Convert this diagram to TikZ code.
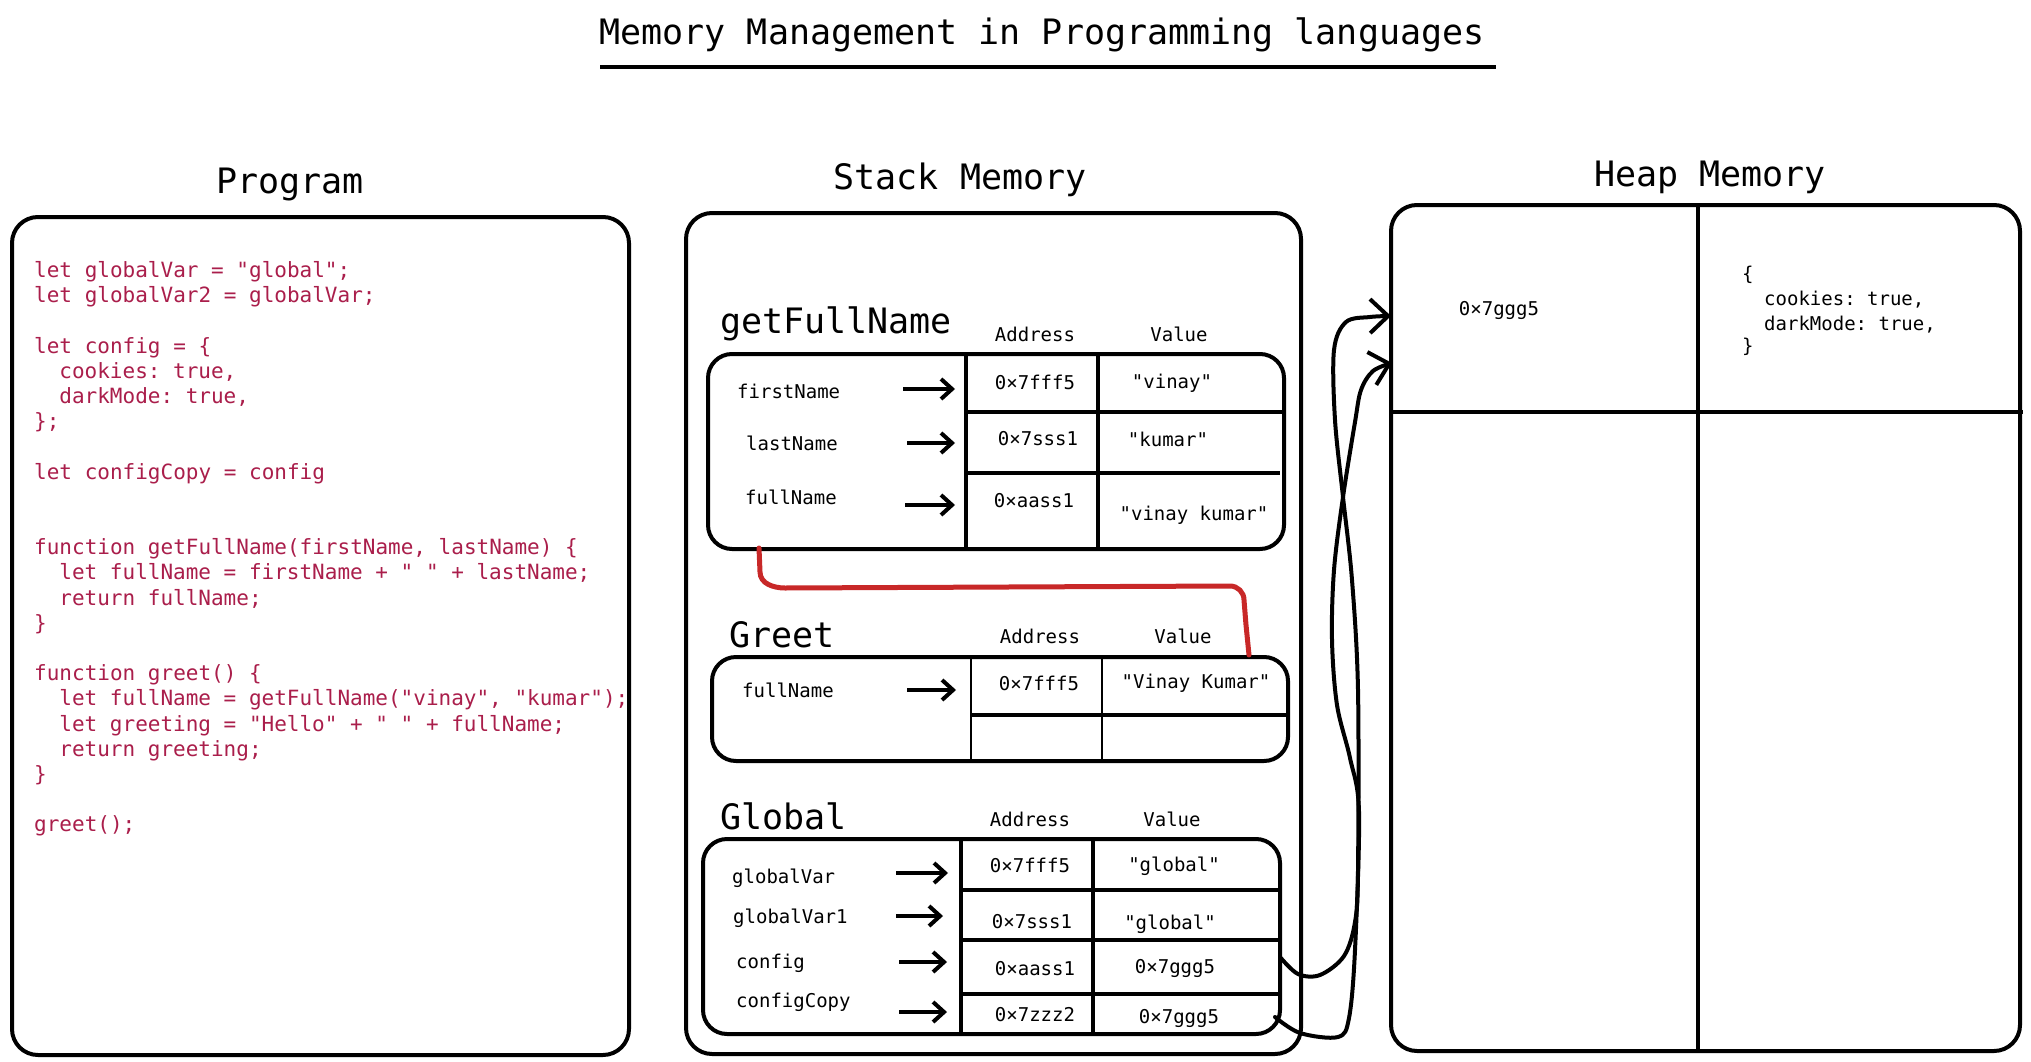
\documentclass[tikz,border=0pt]{standalone}
\usepackage{fontspec}
\setmonofont{DejaVu Sans Mono}
\usetikzlibrary{arrows.meta}
\definecolor{codered}{RGB}{170,30,75}
\definecolor{linkred}{RGB}{200,40,40}
\tikzset{
  bigtxt/.style={inner sep=0pt, yshift=-3pt, font=\ttfamily\fontsize{35}{40}\selectfont, text height=25pt, text depth=7pt},
  smalltxt/.style={inner sep=0pt, yshift=-2pt, font=\ttfamily\fontsize{19}{22}\selectfont, text height=14pt, text depth=4pt},
  codetxt/.style={inner sep=0pt, yshift=-2.5pt, anchor=west, text=codered, font=\ttfamily\fontsize{21}{25}\selectfont, text height=15pt, text depth=4pt},
  boxframe/.style={draw=black, line width=4pt, rounded corners=26pt, anchor=north west, inner sep=0pt},
  tablebox/.style={draw=black, line width=4pt, rounded corners=24pt, anchor=north west, inner sep=0pt},
  gridline/.style={draw=black, line width=4pt},
  thinline/.style={draw=black, line width=1.7pt},
  ptr/.style={line width=4pt, -{Straight Barb[length=11pt, width=20pt]}},
  heapptr/.style={line width=4pt, line cap=round, line join=round, -{Straight Barb[length=18pt, width=34pt]}},
  redlink/.style={draw=linkred, line width=5pt, line cap=round, line join=round},
}
\begin{document}
\begin{tikzpicture}[x=1pt, y=-1pt]
\useasboundingbox (0,0) rectangle (2031,1062);
\fill[white] (0,0) rectangle (2031,1062);

% title
\node[bigtxt] (title) at (1042,33) {Memory Management in Programming languages};
\draw[line width=4pt] (600,67) -- (1496,67);

% section labels
\node[bigtxt] (lprog) at (290,181) {Program};
\node[bigtxt] (lstack) at (960,177) {Stack Memory};
\node[bigtxt] (lheap) at (1710,174) {Heap Memory};

% outer boxes
\node[boxframe, minimum width=617pt, minimum height=838pt] (prog) at (10,215) {};
\node[boxframe, minimum width=615pt, minimum height=841pt] (stack) at (684,211) {};
\node[boxframe, minimum width=629pt, minimum height=846pt] (heap) at (1389,203) {};
\draw[gridline] (1698,203) -- (1698,1049);
\draw[gridline] (1389,412) -- (2023,412);

% program code
\node[codetxt] (c1) at (34,269.4) {let globalVar = "global";};
\node[codetxt] (c2) at (34,294.6) {let globalVar2 = globalVar;};
\node[codetxt] (c4) at (34,345.0) {let config = \{};
\node[codetxt] (c5) at (59.2,370.2) {cookies: true,};
\node[codetxt] (c6) at (59.2,395.4) {darkMode: true,};
\node[codetxt] (c7) at (34,420.6) {\};};
\node[codetxt] (c9) at (34,471.0) {let configCopy = config};
\node[codetxt] (c12) at (34,546.6) {function getFullName(firstName, lastName) \{};
\node[codetxt] (c13) at (59.2,571.8) {let fullName = firstName + " " + lastName;};
\node[codetxt] (c14) at (59.2,597.0) {return fullName;};
\node[codetxt] (c15) at (34,622.2) {\}};
\node[codetxt] (c17) at (34,672.6) {function greet() \{};
\node[codetxt] (c18) at (59.2,697.8) {let fullName = getFullName("vinay", "kumar");};
\node[codetxt] (c19) at (59.2,723.0) {let greeting = "Hello" + " " + fullName;};
\node[codetxt] (c20) at (59.2,748.2) {return greeting;};
\node[codetxt] (c21) at (34,773.4) {\}};
\node[codetxt] (c23) at (34,823.8) {greet();};

% ---------- getFullName frame ----------
\node[bigtxt, anchor=west] (gfnlbl) at (720,321) {getFullName};
\node[smalltxt] (gfnaddr) at (1035,334) {Address};
\node[smalltxt] (gfnval) at (1179,334) {Value};
\node[tablebox, minimum width=576pt, minimum height=195pt] (gfn) at (706,352) {};
\draw[gridline] (966,352) -- (966,547);
\draw[gridline] (1098,352) -- (1098,547);
\draw[gridline] (966,412) -- (1282,412);
\draw[gridline] (966,473) -- (1280,473);
\node[smalltxt, anchor=west] (gfn1) at (737,391) {firstName};
\node[smalltxt, anchor=west] (gfn2) at (746,443) {lastName};
\node[smalltxt, anchor=west] (gfn3) at (745,497) {fullName};
\node[smalltxt] (gfna1) at (1035,382) {0×7fff5};
\node[smalltxt] (gfnv1) at (1172,381) {"vinay"};
\node[smalltxt] (gfna2) at (1038,438) {0×7sss1};
\node[smalltxt] (gfnv2) at (1168,439) {"kumar"};
\node[smalltxt] (gfna3) at (1034,500) {0×aass1};
\node[smalltxt] (gfnv3) at (1194,513) {"vinay kumar"};
\coordinate (g1s) at (903,389); \coordinate (g1e) at (955,389);
\coordinate (g2s) at (907,443); \coordinate (g2e) at (955,443);
\coordinate (g3s) at (905,505); \coordinate (g3e) at (955,505);
\draw[ptr] (g1s) -- (g1e);
\draw[ptr] (g2s) -- (g2e);
\draw[ptr] (g3s) -- (g3e);

% ---------- Greet frame ----------
\node[bigtxt, anchor=west] (grlbl) at (729,635) {Greet};
\node[smalltxt] (graddr) at (1040,636) {Address};
\node[smalltxt] (grval) at (1183,636) {Value};
\node[tablebox, minimum width=576pt, minimum height=104pt] (greet) at (710,655) {};
\draw[thinline] (971,655) -- (971,759);
\draw[thinline] (1102,655) -- (1102,759);
\draw[gridline] (971,715) -- (1286,715);
\node[smalltxt, anchor=west] (gr1) at (742,690) {fullName};
\node[smalltxt] (gra1) at (1039,683) {0×7fff5};
\node[smalltxt] (grv1) at (1196,681) {"Vinay Kumar"};
\coordinate (r1s) at (907,690); \coordinate (r1e) at (956,690);
\draw[ptr] (r1s) -- (r1e);

% red link from getFullName frame to Greet frame
\coordinate (linkA) at (759,548);
\coordinate (linkB) at (1249,655);
\draw[redlink] (linkA) -- (760,572) to[out=-90, in=180] (785,588) -- (1230,586) to[out=0, in=90] (1244,600) -- (1246,625) -- (linkB);

% ---------- Global frame ----------
\node[bigtxt, anchor=west] (gllbl) at (720,817) {Global};
\node[smalltxt] (gladdr) at (1030,819) {Address};
\node[smalltxt] (glval) at (1172,819) {Value};
\node[tablebox, minimum width=577pt, minimum height=195pt] (glob) at (701,837) {};
\draw[gridline] (961,837) -- (961,1032);
\draw[gridline] (1093,837) -- (1093,1032);
\draw[gridline] (961,890) -- (1278,890);
\draw[gridline] (961,940) -- (1278,940);
\draw[gridline] (961,994) -- (1278,994);
\node[smalltxt, anchor=west] (gl1) at (732,876) {globalVar};
\node[smalltxt, anchor=west] (gl2) at (733,916) {globalVar1};
\node[smalltxt, anchor=west] (gl3) at (736,961) {config};
\node[smalltxt, anchor=west] (gl4) at (736,1000) {configCopy};
\node[smalltxt] (gla1) at (1030,865) {0×7fff5};
\node[smalltxt] (glv1) at (1174,864) {"global"};
\node[smalltxt] (gla2) at (1032,921) {0×7sss1};
\node[smalltxt] (glv2) at (1170,922) {"global"};
\node[smalltxt] (gla3) at (1035,968) {0×aass1};
\node[smalltxt] (glv3) at (1175,966) {0×7ggg5};
\node[smalltxt] (gla4) at (1035,1014) {0×7zzz2};
\node[smalltxt] (glv4) at (1179,1016) {0×7ggg5};
\coordinate (q1s) at (896,873); \coordinate (q1e) at (948,873);
\coordinate (q2s) at (896,916); \coordinate (q2e) at (943,916);
\coordinate (q3s) at (899,962); \coordinate (q3e) at (947,962);
\coordinate (q4s) at (899,1012); \coordinate (q4e) at (947,1012);
\draw[ptr] (q1s) -- (q1e);
\draw[ptr] (q2s) -- (q2e);
\draw[ptr] (q3s) -- (q3e);
\draw[ptr] (q4s) -- (q4e);

% ---------- Heap contents ----------
\node[smalltxt] (haddr) at (1499,308) {0×7ggg5};
\node[smalltxt, anchor=west] (ho1) at (1742,273) {\{};
\node[smalltxt, anchor=west] (ho2) at (1764,298) {cookies: true,};
\node[smalltxt, anchor=west] (ho3) at (1764,323) {darkMode: true,};
\node[smalltxt, anchor=west] (ho4) at (1742,345) {\}};

% pointers from Global to Heap
\coordinate (hp1s) at (1280,957);
\coordinate (hp1e) at (1391,316);
\coordinate (hp2s) at (1275,1017);
\coordinate (hp2e) at (1392,363);
\draw[heapptr] plot[smooth, tension=0.55] coordinates {(hp1s) (1298,974) (1320,975) (1344,956) (1355,922) (1358,870) (1358,690) (1352,580) (1343,497) (1335,420) (1334,350) (1346,322) (1370,317) (hp1e)};
\draw[heapptr] plot[smooth, tension=0.55] coordinates {(hp2s) (1300,1033) (1338,1037) (1349,1018) (1355,950) (1359,812) (1350,758) (1337,705) (1332,640) (1334,570) (1343,497) (1355,422) (1361,390) (1373,371) (hp2e)};
\end{tikzpicture}
\end{document}
